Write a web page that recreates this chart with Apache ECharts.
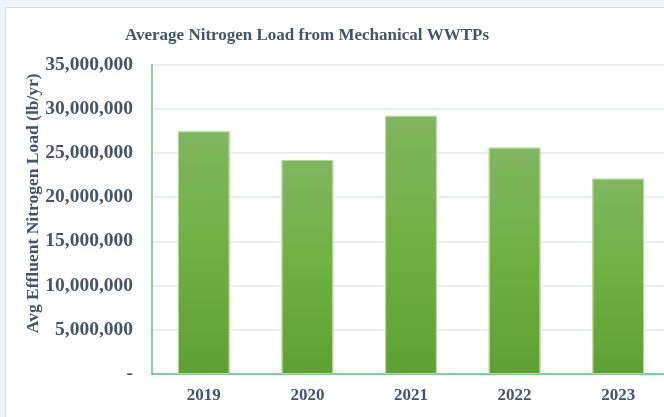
<!DOCTYPE html>
<html>
<head>
<meta charset="utf-8">
<script src="https://cdn.jsdelivr.net/npm/echarts@6/dist/echarts.min.js"></script>
<style>
  html, body { margin: 0; padding: 0; background: #eef4fb; }
  #chart { width: 664px; height: 417px; }
</style>
</head>
<body>
<div id="chart"></div>
<script>
const years = ['2019', '2020', '2021', '2022', '2023'];
const nitrogenLoad = [27450000, 24200000, 29200000, 25600000, 22100000];
const yTicks = { min: 0, max: 35000000, interval: 5000000 };

const textColor = '#44546a';
const serif = '"Liberation Serif", "DejaVu Serif", serif';

const chart = echarts.init(document.getElementById('chart'));

chart.setOption({
    backgroundColor: '#eef4fb',
    graphic: [{
        type: 'rect',
        z: -10,
        shape: { x: 5.5, y: 7.5, width: 700, height: 450 },
        style: { fill: '#ffffff', stroke: '#d9dee5', lineWidth: 1 },
        silent: true,
    }],
    title: {
        text: 'Average Nitrogen Load from Mechanical WWTPs',
        left: 302,
        textAlign: 'center',
        top: 22,
        textStyle: { fontFamily: serif, fontWeight: 'bold', fontSize: 17, color: textColor },
    },
    grid: { left: 152, width: 518, top: 64.5, bottom: 43, outerBoundsMode: 'none', containLabel: false },
    xAxis: {
        type: 'category',
        data: years,
        axisLine: { lineStyle: { color: '#5cc47e', width: 1.5 } },
        axisTick: { show: false },
        axisLabel: {
            margin: 13,
            fontFamily: serif, fontWeight: 'bold', fontSize: 17, color: textColor,
        },
    },
    yAxis: {
        type: 'value',
        min: yTicks.min,
        max: yTicks.max,
        interval: yTicks.interval,
        name: 'Avg Effluent Nitrogen Load (lb/yr)',
        nameLocation: 'middle',
        nameGap: 110,
        nameMoveOverlap: false,
        nameTextStyle: {
            fontFamily: serif, fontWeight: 'bold', fontSize: 17.5, color: textColor,
            padding: [0, 0, 0, 32],
        },
        axisLine: { show: true, lineStyle: { color: '#5cc47e', width: 1.5 } },
        axisTick: { show: false },
        splitLine: { lineStyle: { color: '#e3e7ee', width: 1.5 } },
        axisLabel: {
            margin: 19,
            fontFamily: serif, fontWeight: 'bold', fontSize: 19.5, color: textColor,
            formatter: v => v === 0 ? '-' : v.toLocaleString('en-US'),
        },
    },
    series: [{
        type: 'bar',
        data: nitrogenLoad,
        barWidth: '50%',
        itemStyle: {
            color: new echarts.graphic.LinearGradient(0, 0, 0, 1, [
                { offset: 0, color: '#80b660' },
                { offset: 0.5, color: '#70b042' },
                { offset: 1, color: '#5fa034' },
            ]),
            borderColor: '#b5d9a0',
            borderWidth: 1,
        },
    }],
});
</script>
</body>
</html>
